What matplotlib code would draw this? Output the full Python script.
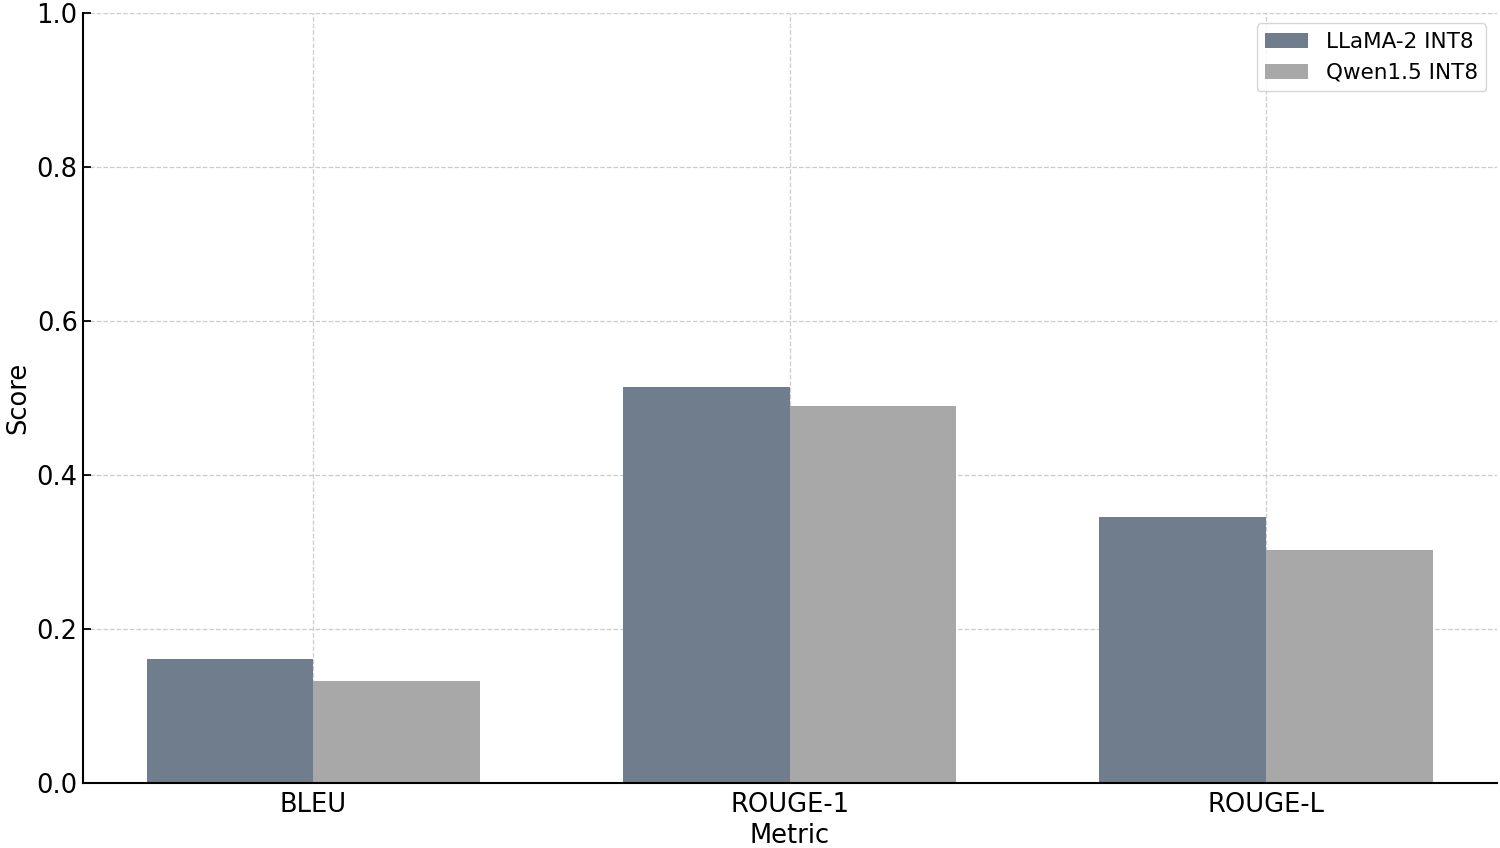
import numpy as np
import matplotlib.pyplot as plt

metrics = ['BLEU', 'ROUGE-1', 'ROUGE-L']
llama_scores = [0.161, 0.514, 0.345]
qwen_scores = [0.132, 0.489, 0.302]
series_names = ['LLaMA-2 INT8', 'Qwen1.5 INT8']

plt.rcParams['font.size'] = 18.5

fig, ax = plt.subplots(figsize=(15, 8.48), dpi=100)
x = np.arange(len(metrics))
width = 0.35

ax.bar(x - width / 2, llama_scores, width, color='#6f7d8c', label=series_names[0])
ax.bar(x + width / 2, qwen_scores, width, color='#a8a8a8', label=series_names[1])

ax.set_xticks(x)
ax.set_xticklabels(metrics)
ax.set_ylim(0, 1.0)
ax.set_xlabel('Metric', labelpad=3)
ax.set_ylabel('Score')
ax.grid(True, linestyle='--', color='#cccccc', linewidth=0.9)
ax.set_axisbelow(True)
ax.tick_params(direction='in', length=6, width=1.3)
ax.tick_params(axis='x', pad=7)
for s in ['top', 'right']:
    ax.spines[s].set_visible(False)
for s in ['left', 'bottom']:
    ax.spines[s].set_linewidth(1.5)
ax.legend(loc='upper right', fontsize=15.5)

fig.subplots_adjust(left=0.055, right=0.998, top=0.985, bottom=0.077)
fig.savefig('out.png')
